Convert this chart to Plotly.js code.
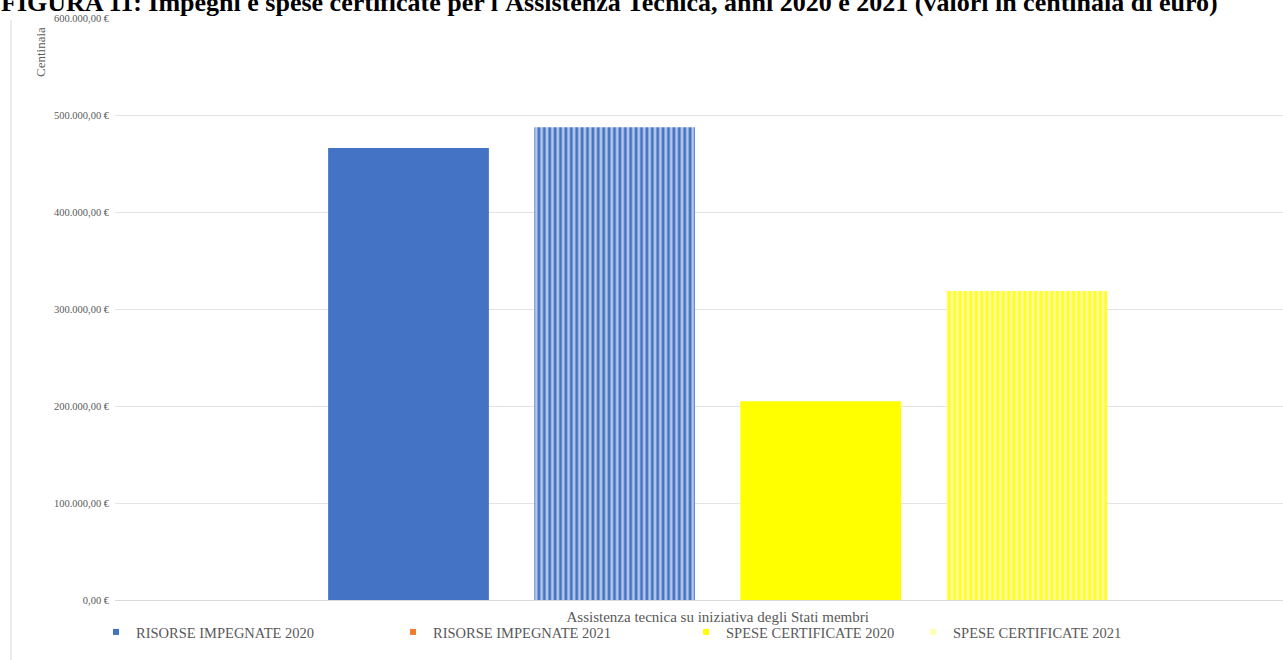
<!DOCTYPE html>
<html>
<head>
<meta charset="utf-8">
<script src="https://cdn.plot.ly/plotly-3.0.1.min.js"></script>
<style>html,body{margin:0;padding:0;background:#fff;}#chart{width:1283px;height:660px;}</style>
</head>
<body>
<div id="chart"></div>
<script>
// ---- data ----
const categories = ["Assistenza tecnica su iniziativa degli Stati membri"];
const seriesNames = ["RISORSE IMPEGNATE 2020", "RISORSE IMPEGNATE 2021", "SPESE CERTIFICATE 2020", "SPESE CERTIFICATE 2021"];
const risorse2020 = [466000];
const risorse2021 = [487500];
const spese2020 = [205000];
const spese2021 = [318500];
const yTickVals = [0, 100000, 200000, 300000, 400000, 500000, 600000];
const titleText = "FIGURA 11: Impegni e spese certificate per l'Assistenza Tecnica, anni 2020 e 2021 (valori in centinaia di euro)";
const yTitleText = "Centinaia";

// euro formatting: 600.000,00 €
function fmtEuro(v) {
  const parts = v.toFixed(2).split(".");
  const intPart = parts[0].replace(/\B(?=(\d{3})+(?!\d))/g, ".");
  return intPart + "," + parts[1] + " €";
}
const yTickText = yTickVals.map(fmtEuro);

// ---- geometry helpers (pixels -> paper) ----
const W = 1283, H = 660;
const M = {l: 115, r: 0, t: 18, b: 60};
const PW = W - M.l - M.r, PH = H - M.t - M.b;
const px = x => (x - M.l) / PW;
const py = y => 1 - (y - M.t) / PH;

const FONT = "Liberation Serif, Times New Roman, serif";
const GREY = "#595959";

const barValues = [risorse2020, risorse2021, spese2020, spese2021];
const barStyles = [
  {color: "#4472C4"},
  {color: "#B4C7E7", pattern: {shape: "|", fgcolor: "#4472C4", bgcolor: "#B4C7E7", size: 5.4, solidity: 0.5}},
  {color: "#FFFF00"},
  {color: "#FFF9A6", pattern: {shape: "|", fgcolor: "#FFFF1A", bgcolor: "#FFF9A6", size: 5.4, solidity: 0.5}}
];
const legendColors = ["#4472C4", "#ED7D31", "#FFFF00", "#FFFFB0"];
const legendIds = ["legend", "legend2", "legend3", "legend4"];
const legendX = [96, 393, 686, 913];

const traces = [];
barValues.forEach((v, i) => {
  traces.push({
    type: "bar", x: categories, y: v, name: seriesNames[i],
    marker: Object.assign({line: {width: 0}}, barStyles[i]),
    showlegend: false, hoverinfo: "name+y"
  });
});
seriesNames.forEach((n, i) => {
  traces.push({
    type: "scatter", mode: "markers", x: categories, y: [null], name: n,
    marker: {symbol: "square", size: 6, color: legendColors[i]},
    legend: legendIds[i], showlegend: true, hoverinfo: "skip"
  });
});

const layout = {
  width: W, height: H,
  margin: M,
  paper_bgcolor: "#fff", plot_bgcolor: "#fff",
  font: {family: FONT, size: 11, color: GREY},
  barmode: "group", bargap: 0.316, bargroupgap: 0.22,
  xaxis: {
    type: "category", range: [-0.5, 0.469], showgrid: false,
    showline: true, linecolor: "#D9D9D9", linewidth: 1,
    ticks: "", tickfont: {family: FONT, size: 15, color: GREY},
    ticklabelstandoff: 3, fixedrange: true
  },
  yaxis: {
    range: [0, 600000], tickmode: "array", tickvals: yTickVals, ticktext: yTickText,
    showgrid: true, gridcolor: "#E3E3E3", gridwidth: 1, zeroline: false,
    showline: false, ticks: "", tickfont: {family: FONT, size: 10.5, color: GREY},
    ticklabelstandoff: 5, fixedrange: true
  },
  annotations: [
    {text: "<b>" + titleText + "</b>", xref: "paper", yref: "paper", x: px(-1), y: py(19),
     xanchor: "left", yanchor: "bottom", showarrow: false,
     font: {family: FONT, size: 26, color: "#000"}},
    {text: yTitleText, xref: "paper", yref: "paper", x: px(40), y: py(52), textangle: -90,
     xanchor: "center", yanchor: "middle", showarrow: false,
     font: {family: FONT, size: 13, color: GREY}}
  ],
  shapes: [
    {type: "line", xref: "paper", yref: "paper", x0: px(11), x1: px(11), y0: py(20), y1: py(660),
     line: {color: "#D9D9D9", width: 1}}
  ]
};
legendIds.forEach((id, i) => {
  layout[id] = {
    orientation: "h", xref: "container", yref: "container",
    x: legendX[i] / W, y: 1 - 632 / H, xanchor: "left", yanchor: "middle",
    font: {family: FONT, size: 14.5, color: GREY}, bgcolor: "rgba(0,0,0,0)",
    itemwidth: 30
  };
});

Plotly.newPlot("chart", traces, layout, {displayModeBar: false, staticPlot: true});
</script>
</body>
</html>
